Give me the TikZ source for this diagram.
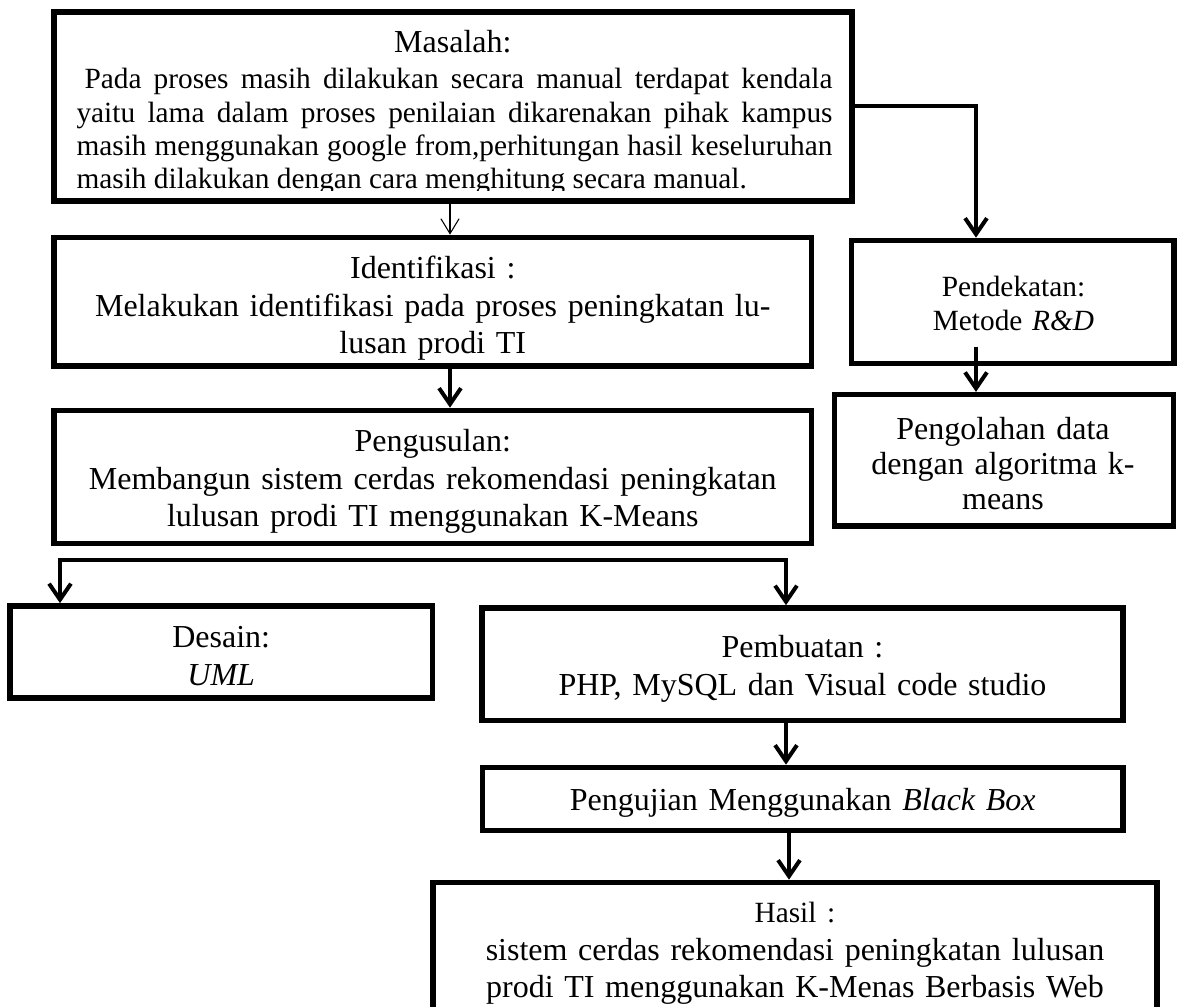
\documentclass[tikz,border=0pt]{standalone}
\usepackage{fontspec}
\setmainfont{Liberation Serif}
\usetikzlibrary{arrows.meta}
\tikzset{
  box/.style={draw, line width=2.1pt, rectangle, inner sep=0pt},
  sz/.style 2 args={minimum width=#1*0.375pt, minimum height=#2*0.375pt},
  txt/.style={inner sep=0pt, anchor=base, align=center, text width=300pt,
              font=\fontsize{12}{13.9}\selectfont},
  conn/.style={line width=1.5pt},
  arr/.style={conn, -{Straight Barb[length=6pt,width=8.2pt]}},
  thinarr/.style={line width=0.4pt, -{Straight Barb[length=5.6pt,width=6.8pt]}},
}
\begin{document}
\begin{tikzpicture}[x=0.375pt,y=-0.375pt]
% page frame
\useasboundingbox (0,0) rectangle (1177,1007);
\fill[white] (0,0) rectangle (1177,1007);
\clip (0,0) rectangle (1177,1007);

% boxes
\node[box, sz={797.7}{189}]   (masalah)      at (452.85,106.5)  {};
\node[box, sz={757.5}{128.5}] (identifikasi) at (432.75,301.75) {};
\node[box, sz={757.5}{133}]   (pengusulan)   at (432.75,477)    {};
\node[box, sz={322.5}{123}]   (pendekatan)   at (1012.75,302)   {};
\node[box, sz={339}{131.3}]   (pengolahan)   at (1004,460.35)   {};
\node[box, sz={422.5}{92}]    (desain)       at (221.25,652)    {};
\node[box, sz={641}{112.5}]   (pembuatan)    at (802.5,664.25)  {};
\node[box, sz={640.5}{63}]    (pengujian)    at (802.75,799)    {};
\node[box, sz={724}{180}]     (hasil)        at (795,972.5)     {};

% texts
\node[txt] (masalahjudul) at (452.85,53) {Masalah:};
\begin{scope}
  \clip (57,15) rectangle (849,191);
  \node[inner sep=0pt, anchor=base west, text width=283.5pt, align=justify,
        font=\fontsize{11}{12.5}\selectfont] (masalahisi) at (76,89)
  {\hspace*{3pt}Pada proses masih dilakukan secara manual terdapat kendala\linebreak
   yaitu lama dalam proses penilaian dikarenakan pihak kampus\linebreak
   masih menggunakan google from,perhitungan hasil keseluruhan\linebreak
   masih dilakukan dengan cara menghitung secara manual.};
\end{scope}

\node[txt] (identifikasiteks) at (432.75,279)
  {Identifikasi :\\Melakukan identifikasi pada proses peningkatan lu-\\lusan prodi TI};
\node[txt] (pengusulanteks) at (432.75,452)
  {Pengusulan:\\Membangun sistem cerdas rekomendasi peningkatan\\lulusan prodi TI menggunakan K-Means};
\node[txt, font=\fontsize{11}{12.75}\selectfont] (pendekatanteks) at (1013.5,296.7)
  {Pendekatan:\\Metode \textit{R\&D}};
\node[txt, font=\fontsize{12}{13.1}\selectfont] (pengolahanteks) at (1003,440)
  {Pengolahan data\\dengan algoritma k-\\means};
\node[txt] (desainteks) at (221.25,648) {Desain:\\\textit{UML}};
\node[txt] (pembuatanteks) at (802.5,658) {Pembuatan :\\PHP, MySQL dan Visual code studio};
\node[txt] (pengujianteks) at (802.75,810.7) {Pengujian Menggunakan \textit{Black Box}};
\node[txt] (hasilteks) at (795,923)
  {{\fontsize{11}{13.9}\selectfont Hasil :}\\sistem cerdas rekomendasi peningkatan lulusan\\prodi TI menggunakan K-Menas Berbasis Web};

% connector columns and corners
\coordinate (colA) at (450,0);
\coordinate (turnA) at (976,106.5);
\coordinate (rdstart) at (976,346.7);
\coordinate (barL) at (60,559.7);
\coordinate (barR) at (786,559.7);
\coordinate (colD) at (789,0);

% connectors
\draw[thinarr] (masalah.south -| colA) -- (identifikasi.north -| colA);
\draw[arr] (masalah.east) -- (turnA) -- (turnA |- pendekatan.north);
\draw[arr] (identifikasi.south -| colA) -- (pengusulan.north -| colA);
\draw[arr] (rdstart) -- (rdstart |- pengolahan.north);
\draw[arr] (barR) -- (barL) -- (barL |- desain.north);
\draw[arr] (barL) -- (barR) -- (barR |- pembuatan.north);
\draw[arr] (pembuatan.south -| barR) -- (pengujian.north -| barR);
\draw[arr] (pengujian.south -| colD) -- (hasil.north -| colD);
\end{tikzpicture}
\end{document}
